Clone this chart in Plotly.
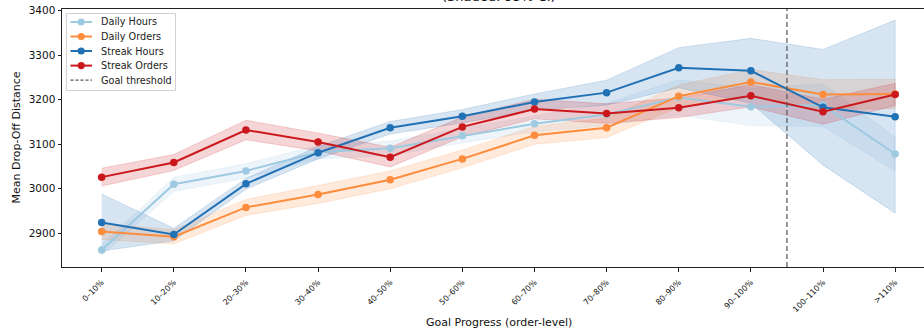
import plotly.graph_objects as go

# Goal-progress buckets (order level)
categories = ["0–10%", "10–20%", "20–30%", "30–40%", "40–50%", "50–60%",
              "60–70%", "70–80%", "80–90%", "90–100%", "100–110%", ">110%"]

# Mean drop-off distance per bucket
daily_hours = [2862, 3010, 3040, 3082, 3091, 3119, 3146, 3167, 3205, 3184, 3188, 3078]
daily_orders = [2904, 2892, 2958, 2987, 3020, 3067, 3120, 3137, 3208, 3240, 3212, 3213]
streak_hours = [2924, 2897, 3011, 3081, 3137, 3163, 3195, 3216, 3272, 3265, 3183, 3162]
streak_orders = [3026, 3059, 3132, 3105, 3071, 3139, 3179, 3169, 3182, 3209, 3173, 3212]

# Half-widths of the 95% confidence intervals
daily_hours_ci = [12, 16, 16, 15, 16, 16, 18, 25, 40, 42, 48, 38]
daily_orders_ci = [18, 16, 18, 20, 20, 20, 20, 22, 25, 28, 33, 33]
streak_hours_ci = [64, 14, 12, 14, 14, 15, 18, 28, 45, 73, 130, 217]
streak_orders_ci = [20, 18, 22, 20, 22, 22, 22, 22, 22, 25, 28, 25]

goal_threshold = 9.5  # boundary between 90–100% and 100–110%

series = [
    ("Daily Hours", daily_hours, daily_hours_ci, (158, 202, 225)),
    ("Daily Orders", daily_orders, daily_orders_ci, (253, 141, 60)),
    ("Streak Hours", streak_hours, streak_hours_ci, (33, 113, 181)),
    ("Streak Orders", streak_orders, streak_orders_ci, (203, 24, 29)),
]

W, H = 924, 329
ML, MT, MB = 62, 9, 62
PW, PH = W - ML, H - MT - MB


def px(x):
    return (x - ML) / PW


def py(y):
    return 1 - (y - MT) / PH


def rgb(c, a=None):
    return f"rgba({c[0]},{c[1]},{c[2]},{a})" if a is not None else f"rgb({c[0]},{c[1]},{c[2]})"


xs = list(range(len(categories)))
fig = go.Figure()

# Confidence bands first so every line sits above them
for name, vals, ci, col in series:
    upper = [v + c for v, c in zip(vals, ci)]
    lower = [v - c for v, c in zip(vals, ci)]
    fig.add_trace(go.Scatter(
        x=xs + xs[::-1], y=upper + lower[::-1],
        fill="toself", fillcolor=rgb(col, 0.18),
        line=dict(color=rgb(col, 0.22), width=0.8),
        hoverinfo="skip", showlegend=False, mode="lines"))

for name, vals, ci, col in series:
    fig.add_trace(go.Scatter(
        x=xs, y=vals, mode="lines+markers", name=name,
        line=dict(color=rgb(col), width=2),
        marker=dict(color=rgb(col), size=7.5),
        showlegend=False))

shapes = []
# goal threshold line
shapes.append(dict(type="line", xref="x", yref="paper", x0=goal_threshold, x1=goal_threshold,
                   y0=0, y1=1, line=dict(color="#555555", width=1.2, dash="5px,3px")))

# legend box
lx0, lx1, ly0, ly1 = 66.5, 175.5, 13.5, 90.5
shapes.append(dict(type="rect", xref="paper", yref="paper",
                   x0=px(lx0), x1=px(lx1), y0=py(ly1), y1=py(ly0),
                   fillcolor="rgba(255,255,255,0.85)", line=dict(color="#d0d0d0", width=1)))

annotations = []
row_y = [22, 36.5, 51, 65.6, 80.2]
legend_items = [(s[0], s[3], False) for s in series] + [("Goal threshold", (85, 85, 85), True)]
for (label, col, dashed), yy in zip(legend_items, row_y):
    shapes.append(dict(type="line", xref="paper", yref="paper",
                       x0=px(70.5), x1=px(92), y0=py(yy), y1=py(yy),
                       line=dict(color=rgb(col), width=1.2 if dashed else 2,
                                 dash="3px,2px" if dashed else "solid")))
    if not dashed:
        shapes.append(dict(type="circle", xref="paper", yref="paper",
                           xsizemode="pixel", ysizemode="pixel",
                           xanchor=px(81.2), yanchor=py(yy),
                           x0=-3.6, x1=3.6, y0=-3.6, y1=3.6,
                           fillcolor=rgb(col), line=dict(width=0)))
    annotations.append(dict(xref="paper", yref="paper", x=px(98.5), y=py(yy),
                            xanchor="left", yanchor="middle", showarrow=False,
                            text=label, font=dict(size=9.7, color="#222222")))

# title (second line of the chart title) and axis titles
annotations.append(dict(xref="paper", yref="paper", x=px(499), y=py(-3),
                        xanchor="center", yanchor="middle", showarrow=False,
                        text="(Shaded: 95% CI)", font=dict(size=13, color="#111111")))
annotations.append(dict(xref="paper", yref="paper", x=px(499), y=py(322.5),
                        xanchor="center", yanchor="middle", showarrow=False,
                        text="Goal Progress (order-level)", font=dict(size=11, color="#111111")))
annotations.append(dict(xref="paper", yref="paper", x=px(15.5), y=py(138),
                        xanchor="center", yanchor="middle", showarrow=False, textangle=-90,
                        text="Mean Drop-Off Distance", font=dict(size=11, color="#111111")))

fig.update_layout(
    width=W, height=H,
    margin=dict(l=ML, r=0, t=MT, b=MB, pad=0),
    paper_bgcolor="white", plot_bgcolor="white",
    font=dict(family="DejaVu Sans", color="#111111"),
    showlegend=False,
    shapes=shapes, annotations=annotations,
    xaxis=dict(range=[-0.55, 11.4], tickmode="array", tickvals=xs, ticktext=categories,
               tickangle=-45, tickfont=dict(size=8), showgrid=False, zeroline=False,
               showline=True, linecolor="#222222", linewidth=1, mirror=True,
               ticks="outside", ticklen=3.5, tickcolor="#222222", automargin=False,
               ticklabelstandoff=3),
    yaxis=dict(range=[2824, 3404], tickvals=[2900, 3000, 3100, 3200, 3300, 3400],
               tickfont=dict(size=10.5), showgrid=False, zeroline=False,
               showline=True, linecolor="#222222", linewidth=1,
               ticks="outside", ticklen=3.5, tickcolor="#222222", automargin=False),
)

fig.write_html("out.html")
